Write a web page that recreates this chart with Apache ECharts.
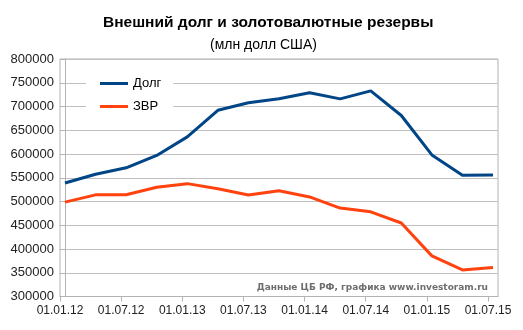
<!DOCTYPE html>
<html>
<head>
<meta charset="utf-8">
<script src="https://cdn.jsdelivr.net/npm/echarts@6/dist/echarts.min.js"></script>
<style>html,body{margin:0;padding:0;background:#fff}#c{width:523px;height:330px}</style>
</head>
<body>
<div id="c"></div>
<script>
var dates = ['01.01.12','01.04.12','01.07.12','01.10.12','01.01.13','01.04.13','01.07.13','01.10.13','01.01.14','01.04.14','01.07.14','01.10.14','01.01.15','01.04.15','01.07.15'];
var debt = [538900, 557500, 571000, 597000, 636000, 692000, 708000, 716500, 729000, 716000, 732800, 681000, 598000, 555500, 556000];
var reserves = [498600, 514000, 514300, 529900, 537600, 527000, 513500, 522500, 509600, 486100, 478300, 454700, 385500, 356000, 361000];
var tickLabels = ['01.01.12','01.07.12','01.01.13','01.07.13','01.01.14','01.07.14','01.01.15','01.07.15'];
var tickShift = -0.163;
var tickIdx = tickLabels.map(function(l){ return dates.indexOf(l) + tickShift; });

var font = 'Liberation Sans, Arial, sans-serif';
var chart = echarts.init(document.getElementById('c'), null, {renderer:'canvas'});
chart.setOption({
  animation: false,
  backgroundColor: '#fff',
  title: [
    {text: 'Внешний долг и золотовалютные резервы', left: 98, top: 10,
     textStyle: {fontFamily: font, fontSize: 15.5, fontWeight: 'bold', color: '#000'}},
    {text: '(млн долл США)', left: 205, top: 33,
     textStyle: {fontFamily: font, fontSize: 14, fontWeight: 'normal', color: '#000'}}
  ],
  grid: {left: 60, right: 25, top: 59, bottom: 33.5, show: true, borderColor: '#b3b3b3', borderWidth: 1, backgroundColor: 'transparent'},
  legend: {
    orient: 'vertical', left: 86, top: 75, itemGap: 10, itemWidth: 28, itemHeight: 14,
    backgroundColor: '#fff', padding: [2, 12, 2, 14],
    textStyle: {fontFamily: font, fontSize: 13, color: '#000'},
    icon: 'path://M0,0 L28,0 L28,3 L0,3 Z',
    data: ['Долг', 'ЗВР']
  },
  xAxis: {
    type: 'value', min: tickShift, max: 14 - tickShift,
    splitLine: {show: false},
    axisLine: {lineStyle: {color: '#b3b3b3'}},
    axisTick: {show: true, length: 5, lineStyle: {color: '#b3b3b3'}, customValues: tickIdx},
    axisLabel: {customValues: tickIdx, fontFamily: font, fontSize: 12, color: '#222', margin: 8,
      formatter: function(v){ return dates[Math.round(v)]; }}
  },
  yAxis: {
    type: 'value', min: 300000, max: 800000, interval: 50000,
    axisLine: {show: true, lineStyle: {color: '#b3b3b3'}},
    axisTick: {show: true, length: 5, lineStyle: {color: '#b3b3b3'}},
    axisLabel: {fontFamily: font, fontSize: 13, color: '#222', margin: 6,
      formatter: function(v){ return String(v); }},
    splitLine: {lineStyle: {color: '#c0c0c0', width: 1}}
  },
  graphic: [{
    type: 'text', right: 32, top: 281, z: 100,
    style: {text: 'Данные ЦБ РФ, графика www.investoram.ru', fill: '#6e6e6e',
      font: 'bold 9px DejaVu Sans, sans-serif', backgroundColor: '#fff', padding: [2, 3]}
  }],
  series: [
    {name: 'Долг', type: 'line', showSymbol: false, symbol: 'none', color: '#004586',
     lineStyle: {width: 3, color: '#004586'},
     data: debt.map(function(v, i){ return [i, v]; })},
    {name: 'ЗВР', type: 'line', showSymbol: false, symbol: 'none', color: '#ff420e',
     lineStyle: {width: 3, color: '#ff420e'},
     data: reserves.map(function(v, i){ return [i, v]; })}
  ]
});
</script>
</body>
</html>
